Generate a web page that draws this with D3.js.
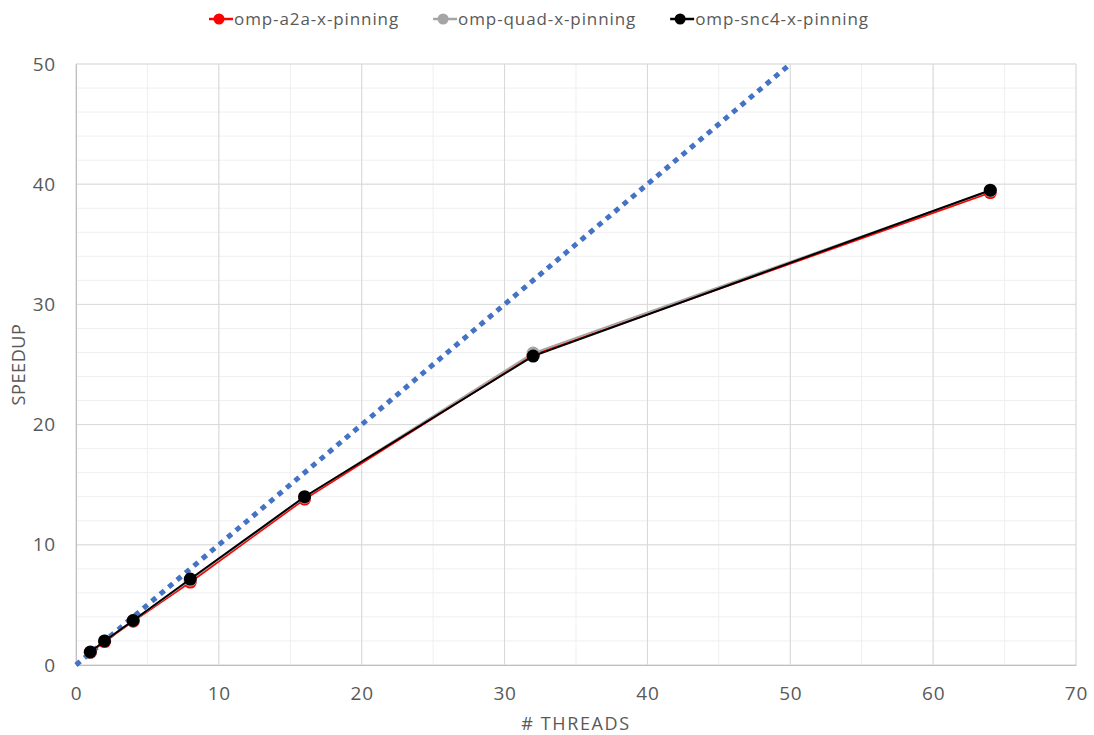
<!DOCTYPE html>
<html>
<head>
<meta charset="utf-8">
<script src="https://cdn.jsdelivr.net/npm/d3@7"></script>
<style>
  html, body { margin: 0; padding: 0; background: #fff; }
  svg { display: block; font-family: "Open Sans", "Noto Sans", sans-serif; }
</style>
</head>
<body>
<svg id="chart" width="1094" height="735"></svg>
<script>
// Thread counts and measured speedups per pinning configuration
const threads = [1, 2, 4, 8, 16, 32, 64];
const a2aSpeedup  = [1.05, 1.95, 3.65, 6.9, 13.8, 25.8, 39.3];
const quadSpeedup = [1.05, 2.0, 3.7, 7.05, 13.95, 25.95, 39.45];
const snc4Speedup = [1.08, 2.0, 3.7, 7.15, 14.0, 25.7, 39.5];
// Ideal linear scaling reference
const idealThreads = [0, 50];
const idealSpeedup = [0, 50];

const xTicks = [0, 10, 20, 30, 40, 50, 60, 70];
const yTicks = [0, 10, 20, 30, 40, 50];
const xMinor = d3.range(0, 71, 5);
const yMinor = d3.range(0, 51, 2);

const seriesNames = ["omp-a2a-x-pinning", "omp-quad-x-pinning", "omp-snc4-x-pinning"];
const seriesColors = ["#ff0000", "#a5a5a5", "#000000"];
const seriesValues = [a2aSpeedup, quadSpeedup, snc4Speedup];

const svg = d3.select("#chart");
const margin = { left: 76, right: 1076, top: 64, bottom: 665 };
const textColor = "#595959";

const x = d3.scaleLinear().domain([0, 70]).range([margin.left, margin.right]);
const y = d3.scaleLinear().domain([0, 50]).range([margin.bottom, margin.top]);

// Minor gridlines
const grid = svg.append("g");
grid.selectAll("line.ym").data(yMinor).join("line")
  .attr("x1", margin.left).attr("x2", margin.right)
  .attr("y1", d => y(d)).attr("y2", d => y(d))
  .attr("stroke", "#efefef").attr("stroke-width", 1);
grid.selectAll("line.xm").data(xMinor).join("line")
  .attr("y1", margin.top).attr("y2", margin.bottom)
  .attr("x1", d => x(d)).attr("x2", d => x(d))
  .attr("stroke", "#efefef").attr("stroke-width", 1);
// Major gridlines
grid.selectAll("line.yM").data(yTicks).join("line")
  .attr("x1", margin.left).attr("x2", margin.right)
  .attr("y1", d => y(d)).attr("y2", d => y(d))
  .attr("stroke", "#d9d9d9").attr("stroke-width", 1);
grid.selectAll("line.xM").data(xTicks).join("line")
  .attr("y1", margin.top).attr("y2", margin.bottom)
  .attr("x1", d => x(d)).attr("x2", d => x(d))
  .attr("stroke", "#d9d9d9").attr("stroke-width", 1);

// Axes
const xAxis = svg.append("g")
  .attr("transform", `translate(0,${margin.bottom})`)
  .call(d3.axisBottom(x).tickValues(xTicks).tickSize(0).tickPadding(22));
const yAxis = svg.append("g")
  .attr("transform", `translate(${margin.left},0)`)
  .call(d3.axisLeft(y).tickValues(yTicks).tickSize(0).tickPadding(20));
[xAxis, yAxis].forEach(a => {
  a.select(".domain").attr("stroke", "#bfbfbf").attr("stroke-width", 1);
  a.selectAll("text").attr("fill", textColor).attr("font-size", 19)
    .attr("letter-spacing", 0.8)
    .attr("font-family", "\"Open Sans\", sans-serif");
});

// Axis titles
svg.append("text")
  .attr("x", x(35)).attr("y", 730)
  .attr("text-anchor", "middle")
  .attr("fill", textColor).attr("font-size", 18)
  .attr("letter-spacing", 1.6)
  .text("# THREADS");
svg.append("text")
  .attr("transform", `translate(25,${y(25)}) rotate(-90)`)
  .attr("text-anchor", "middle")
  .attr("fill", textColor).attr("font-size", 18)
  .attr("letter-spacing", 0.6)
  .text("SPEEDUP");

// Ideal scaling dotted line
const idealLine = d3.line().x((d, i) => x(idealThreads[i])).y(d => y(d));
svg.append("path")
  .datum(idealSpeedup)
  .attr("d", idealLine)
  .attr("fill", "none")
  .attr("stroke", "#4472c4")
  .attr("stroke-width", 5)
  .attr("stroke-dasharray", "5.5 5.5");

// Measured series
const line = d3.line().x((d, i) => x(threads[i])).y(d => y(d));
seriesValues.forEach((vals, s) => {
  const g = svg.append("g");
  g.append("path")
    .datum(vals)
    .attr("d", line)
    .attr("fill", "none")
    .attr("stroke", seriesColors[s])
    .attr("stroke-width", 2);
  g.selectAll("circle").data(vals).join("circle")
    .attr("cx", (d, i) => x(threads[i]))
    .attr("cy", d => y(d))
    .attr("r", 6.5)
    .attr("fill", seriesColors[s]);
});

// Legend, laid out left to right
const legend = svg.append("g").attr("transform", "translate(0,19)");
let cursor = 209;
seriesNames.forEach((name, i) => {
  const lg = legend.append("g").attr("transform", `translate(${cursor},0)`);
  lg.append("line").attr("x1", 0).attr("x2", 24).attr("y1", 0).attr("y2", 0)
    .attr("stroke", seriesColors[i]).attr("stroke-width", 2.5);
  lg.append("circle").attr("cx", 10).attr("cy", 0).attr("r", 5.5).attr("fill", seriesColors[i]);
  const t = lg.append("text").attr("x", 25).attr("y", 6)
    .attr("fill", textColor).attr("font-size", 17)
    .attr("letter-spacing", 0.9)
    .text(name);
  cursor += 25 + t.node().getComputedTextLength() + 34;
});
</script>
</body>
</html>
